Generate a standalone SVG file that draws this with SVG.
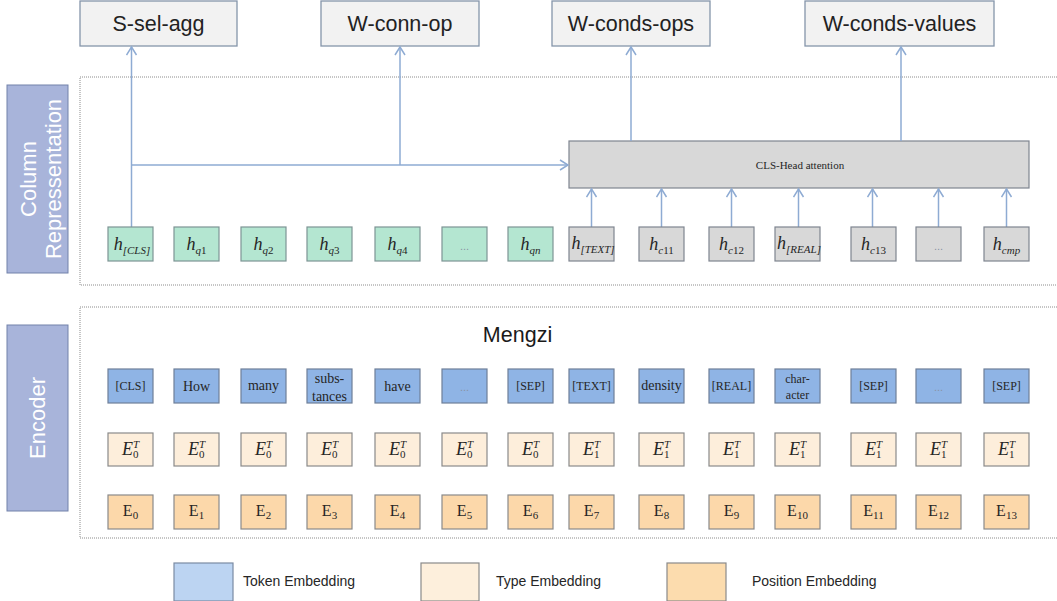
<svg xmlns="http://www.w3.org/2000/svg" width="1057" height="601" viewBox="0 0 1057 601">
<defs>
<style>
.frame{fill:none;stroke:#8c8c8c;stroke-width:1;stroke-dasharray:1 1}
.out{fill:#f2f2f2;stroke:#8595aa;stroke-width:1.3}
.lbl{fill:#a8b4da;stroke:#7282aa;stroke-width:1}
.hg{fill:#b4e6d1;stroke:#7d9494;stroke-width:1.2}
.hgr{fill:#d8d8d8;stroke:#7f8590;stroke-width:1.2}
.tok{fill:#8fb4e5;stroke:#6e7f98;stroke-width:1.2}
.typ{fill:#fdeedb;stroke:#8a8a8a;stroke-width:1.2}
.pos{fill:#fcd8aa;stroke:#8a8a8a;stroke-width:1.2}
.conn{stroke:#8eabd3;stroke-width:1.5;fill:none;marker-end:url(#arr)}
.otxt{font-family:"Liberation Sans",Arial,sans-serif;font-size:21.5px;fill:#222;text-anchor:middle}
.vtxt{font-family:"Liberation Sans",Arial,sans-serif;font-size:22px;fill:#ffffff;text-anchor:middle}
.math{font-family:"Liberation Serif","Times New Roman",serif;font-style:italic;font-size:18px;fill:#262626;text-anchor:middle}
.sub{font-size:11px}
.up{font-style:normal}
.rom{font-family:"Liberation Serif","Times New Roman",serif;font-size:16px;fill:#262626;text-anchor:middle}
.s11{font-size:11px}
.tt{font-family:"Liberation Serif","Times New Roman",serif;font-size:14px;fill:#262626;text-anchor:middle}
.tb{font-family:"Liberation Serif","Times New Roman",serif;font-size:12px;fill:#262626;text-anchor:middle}
.dots{font-family:"Liberation Sans",Arial,sans-serif;font-size:11px;fill:#8a93a3;text-anchor:middle}
.leg{font-family:"Liberation Sans",Arial,sans-serif;font-size:14px;fill:#262626}
</style>
<marker id="arr" markerUnits="userSpaceOnUse" markerWidth="14" markerHeight="14" refX="10" refY="6" orient="auto">
<path d="M2,1 L10,6 L2,11" fill="none" stroke="#8eabd3" stroke-width="1.5"/>
</marker>
</defs>
<rect width="1057" height="601" fill="#ffffff"/>

<g id="frames">
<rect class="frame" x="80" y="77" width="990" height="208"/>
<rect class="frame" x="80" y="307" width="990" height="231"/>
</g>

<g id="label-column">
<rect class="lbl" x="7" y="85" width="61" height="188"/>
<text class="vtxt" transform="translate(37,179) rotate(-90)"><tspan x="0" y="-1">Column</tspan><tspan x="0" y="24">Repressentation</tspan></text>
</g>
<g id="label-encoder">
<rect class="lbl" x="7" y="325" width="61" height="186"/>
<text class="vtxt" font-size="21" transform="translate(37,418) rotate(-90)" y="7.5">Encoder</text>
</g>

<g id="out-s-sel-agg"><rect class="out" x="80" y="1" width="157" height="45"/><text class="otxt" x="158.5" y="31">S-sel-agg</text></g>
<g id="out-w-conn-op"><rect class="out" x="321" y="1" width="158" height="45"/><text class="otxt" x="400" y="31">W-conn-op</text></g>
<g id="out-w-conds-ops"><rect class="out" x="552" y="1" width="158" height="45"/><text class="otxt" x="631" y="31">W-conds-ops</text></g>
<g id="out-w-conds-values"><rect class="out" x="805" y="1" width="189" height="45"/><text class="otxt" x="899.5" y="31">W-conds-values</text></g>

<g id="cls-head-attention">
<rect class="hgr" x="569" y="141" width="460" height="47"/>
<text x="800" y="169" font-family="'Liberation Serif','Times New Roman',serif" font-size="11px" fill="#262626" text-anchor="middle">CLS-Head attention</text>
</g>

<g id="connectors">
<path class="conn" d="M131.5,227 V47"/>
<path class="conn" d="M131.5,165 H568"/>
<path class="conn" d="M400,165 V47"/>
<path class="conn" d="M631,141 V47"/>
<path class="conn" d="M901,141 V47"/>
<path class="conn" d="M591.5,227 V189"/>
<path class="conn" d="M661.5,227 V189"/>
<path class="conn" d="M731.5,227 V189"/>
<path class="conn" d="M798.5,227 V189"/>
<path class="conn" d="M872.5,227 V189"/>
<path class="conn" d="M938.5,227 V189"/>
<path class="conn" d="M1006.5,227 V189"/>
</g>

<g id="h-cls"><rect class="hg" x="108" y="227" width="45" height="34"/><text class="math" x="132" y="250">h<tspan class="sub" dy="4">[CLS]</tspan></text></g>
<g id="h-q1"><rect class="hg" x="174" y="227" width="45" height="34"/><text class="math" x="196.5" y="250">h<tspan class="sub" dy="4">q<tspan class="up">1</tspan></tspan></text></g>
<g id="h-q2"><rect class="hg" x="241" y="227" width="45" height="34"/><text class="math" x="263.5" y="250">h<tspan class="sub" dy="4">q<tspan class="up">2</tspan></tspan></text></g>
<g id="h-q3"><rect class="hg" x="307" y="227" width="45" height="34"/><text class="math" x="329.5" y="250">h<tspan class="sub" dy="4">q<tspan class="up">3</tspan></tspan></text></g>
<g id="h-q4"><rect class="hg" x="375" y="227" width="45" height="34"/><text class="math" x="397.5" y="250">h<tspan class="sub" dy="4">q<tspan class="up">4</tspan></tspan></text></g>
<g id="h-qdots"><rect class="hg" x="442" y="227" width="45" height="34"/><text class="dots" x="464.5" y="250">...</text></g>
<g id="h-qn"><rect class="hg" x="508" y="227" width="45" height="34"/><text class="math" x="530.5" y="250">h<tspan class="sub" dy="4">qn</tspan></text></g>
<g id="h-text"><rect class="hgr" x="569" y="227" width="45" height="34"/><text class="math" x="593" y="249">h<tspan class="sub" dy="4">[TEXT]</tspan></text></g>
<g id="h-c11"><rect class="hgr" x="639" y="227" width="45" height="34"/><text class="math" x="661.5" y="250">h<tspan class="sub" dy="4">c<tspan class="up">11</tspan></tspan></text></g>
<g id="h-c12"><rect class="hgr" x="709" y="227" width="45" height="34"/><text class="math" x="731.5" y="250">h<tspan class="sub" dy="4">c<tspan class="up">12</tspan></tspan></text></g>
<g id="h-real"><rect class="hgr" x="775" y="227" width="45" height="34"/><text class="math" x="799" y="249">h<tspan class="sub" dy="4">[REAL]</tspan></text></g>
<g id="h-c13"><rect class="hgr" x="851" y="227" width="45" height="34"/><text class="math" x="873.5" y="250">h<tspan class="sub" dy="4">c<tspan class="up">13</tspan></tspan></text></g>
<g id="h-cdots"><rect class="hgr" x="916" y="227" width="45" height="34"/><text class="dots" x="938.5" y="250">...</text></g>
<g id="h-cmp"><rect class="hgr" x="984" y="227" width="45" height="34"/><text class="math" x="1006.5" y="250">h<tspan class="sub" dy="4">cmp</tspan></text></g>

<g id="mengzi"><text x="517.5" y="342" font-family="'Liberation Sans',Arial,sans-serif" font-size="21.5px" fill="#1a1a1a" text-anchor="middle">Mengzi</text></g>

<g id="tok-cls"><rect class="tok" x="108" y="369" width="45" height="34"/><text class="tb" x="130.5" y="390">[CLS]</text></g>
<g id="tok-how"><rect class="tok" x="174" y="369" width="45" height="34"/><text class="tt" x="196.5" y="391">How</text></g>
<g id="tok-many"><rect class="tok" x="241" y="369" width="45" height="34"/><text class="tt" x="263.5" y="390">many</text></g>
<g id="tok-substances"><rect class="tok" x="307" y="369" width="45" height="34"/><text class="tt" x="329.5" y="383">subs-</text><text class="tt" x="329.5" y="401">tances</text></g>
<g id="tok-have"><rect class="tok" x="375" y="369" width="45" height="34"/><text class="tt" x="397.5" y="391">have</text></g>
<g id="tok-dots1"><rect class="tok" x="442" y="369" width="45" height="34"/><text class="dots" x="464.5" y="391">...</text></g>
<g id="tok-sep1"><rect class="tok" x="508" y="369" width="45" height="34"/><text class="tb" x="530.5" y="390">[SEP]</text></g>
<g id="tok-text"><rect class="tok" x="569" y="369" width="45" height="34"/><text class="tb" x="591.5" y="390">[TEXT]</text></g>
<g id="tok-density"><rect class="tok" x="639" y="369" width="45" height="34"/><text class="tt" x="661.5" y="390">density</text></g>
<g id="tok-real"><rect class="tok" x="709" y="369" width="45" height="34"/><text class="tb" x="731.5" y="390">[REAL]</text></g>
<g id="tok-character"><rect class="tok" x="775" y="369" width="45" height="34"/><text class="tb" x="797.5" y="383">char-</text><text class="tb" x="797.5" y="399">acter</text></g>
<g id="tok-sep2"><rect class="tok" x="851" y="369" width="45" height="34"/><text class="tb" x="873.5" y="390">[SEP]</text></g>
<g id="tok-dots2"><rect class="tok" x="916" y="369" width="45" height="34"/><text class="dots" x="938.5" y="391">...</text></g>
<g id="tok-sep3"><rect class="tok" x="984" y="369" width="45" height="34"/><text class="tb" x="1006.5" y="390">[SEP]</text></g>

<g id="typ-1"><rect class="typ" x="108" y="433" width="45" height="33"/><text class="math" x="130.5" y="455">E<tspan class="s11" dy="-7">T</tspan><tspan class="s11 up" dx="-6" dy="10">0</tspan></text></g>
<g id="typ-2"><rect class="typ" x="174" y="433" width="45" height="33"/><text class="math" x="196.5" y="455">E<tspan class="s11" dy="-7">T</tspan><tspan class="s11 up" dx="-6" dy="10">0</tspan></text></g>
<g id="typ-3"><rect class="typ" x="241" y="433" width="45" height="33"/><text class="math" x="263.5" y="455">E<tspan class="s11" dy="-7">T</tspan><tspan class="s11 up" dx="-6" dy="10">0</tspan></text></g>
<g id="typ-4"><rect class="typ" x="307" y="433" width="45" height="33"/><text class="math" x="329.5" y="455">E<tspan class="s11" dy="-7">T</tspan><tspan class="s11 up" dx="-6" dy="10">0</tspan></text></g>
<g id="typ-5"><rect class="typ" x="375" y="433" width="45" height="33"/><text class="math" x="397.5" y="455">E<tspan class="s11" dy="-7">T</tspan><tspan class="s11 up" dx="-6" dy="10">0</tspan></text></g>
<g id="typ-6"><rect class="typ" x="442" y="433" width="45" height="33"/><text class="math" x="464.5" y="455">E<tspan class="s11" dy="-7">T</tspan><tspan class="s11 up" dx="-6" dy="10">0</tspan></text></g>
<g id="typ-7"><rect class="typ" x="508" y="433" width="45" height="33"/><text class="math" x="530.5" y="455">E<tspan class="s11" dy="-7">T</tspan><tspan class="s11 up" dx="-6" dy="10">0</tspan></text></g>
<g id="typ-8"><rect class="typ" x="569" y="433" width="45" height="33"/><text class="math" x="591.5" y="455">E<tspan class="s11" dy="-7">T</tspan><tspan class="s11 up" dx="-6" dy="10">1</tspan></text></g>
<g id="typ-9"><rect class="typ" x="639" y="433" width="45" height="33"/><text class="math" x="661.5" y="455">E<tspan class="s11" dy="-7">T</tspan><tspan class="s11 up" dx="-6" dy="10">1</tspan></text></g>
<g id="typ-10"><rect class="typ" x="709" y="433" width="45" height="33"/><text class="math" x="731.5" y="455">E<tspan class="s11" dy="-7">T</tspan><tspan class="s11 up" dx="-6" dy="10">1</tspan></text></g>
<g id="typ-11"><rect class="typ" x="775" y="433" width="45" height="33"/><text class="math" x="797.5" y="455">E<tspan class="s11" dy="-7">T</tspan><tspan class="s11 up" dx="-6" dy="10">1</tspan></text></g>
<g id="typ-12"><rect class="typ" x="851" y="433" width="45" height="33"/><text class="math" x="873.5" y="455">E<tspan class="s11" dy="-7">T</tspan><tspan class="s11 up" dx="-6" dy="10">1</tspan></text></g>
<g id="typ-13"><rect class="typ" x="916" y="433" width="45" height="33"/><text class="math" x="938.5" y="455">E<tspan class="s11" dy="-7">T</tspan><tspan class="s11 up" dx="-6" dy="10">1</tspan></text></g>
<g id="typ-14"><rect class="typ" x="984" y="433" width="45" height="33"/><text class="math" x="1006.5" y="455">E<tspan class="s11" dy="-7">T</tspan><tspan class="s11 up" dx="-6" dy="10">1</tspan></text></g>

<g id="pos-0"><rect class="pos" x="108" y="495" width="45" height="34"/><text class="rom" x="130.5" y="516">E<tspan class="s11" dy="3">0</tspan></text></g>
<g id="pos-1"><rect class="pos" x="174" y="495" width="45" height="34"/><text class="rom" x="196.5" y="516">E<tspan class="s11" dy="3">1</tspan></text></g>
<g id="pos-2"><rect class="pos" x="241" y="495" width="45" height="34"/><text class="rom" x="263.5" y="516">E<tspan class="s11" dy="3">2</tspan></text></g>
<g id="pos-3"><rect class="pos" x="307" y="495" width="45" height="34"/><text class="rom" x="329.5" y="516">E<tspan class="s11" dy="3">3</tspan></text></g>
<g id="pos-4"><rect class="pos" x="375" y="495" width="45" height="34"/><text class="rom" x="397.5" y="516">E<tspan class="s11" dy="3">4</tspan></text></g>
<g id="pos-5"><rect class="pos" x="442" y="495" width="45" height="34"/><text class="rom" x="464.5" y="516">E<tspan class="s11" dy="3">5</tspan></text></g>
<g id="pos-6"><rect class="pos" x="508" y="495" width="45" height="34"/><text class="rom" x="530.5" y="516">E<tspan class="s11" dy="3">6</tspan></text></g>
<g id="pos-7"><rect class="pos" x="569" y="495" width="45" height="34"/><text class="rom" x="591.5" y="516">E<tspan class="s11" dy="3">7</tspan></text></g>
<g id="pos-8"><rect class="pos" x="639" y="495" width="45" height="34"/><text class="rom" x="661.5" y="516">E<tspan class="s11" dy="3">8</tspan></text></g>
<g id="pos-9"><rect class="pos" x="709" y="495" width="45" height="34"/><text class="rom" x="731.5" y="516">E<tspan class="s11" dy="3">9</tspan></text></g>
<g id="pos-10"><rect class="pos" x="775" y="495" width="45" height="34"/><text class="rom" x="797.5" y="516">E<tspan class="s11" dy="3">10</tspan></text></g>
<g id="pos-11"><rect class="pos" x="851" y="495" width="45" height="34"/><text class="rom" x="873.5" y="516">E<tspan class="s11" dy="3">11</tspan></text></g>
<g id="pos-12"><rect class="pos" x="916" y="495" width="45" height="34"/><text class="rom" x="938.5" y="516">E<tspan class="s11" dy="3">12</tspan></text></g>
<g id="pos-13"><rect class="pos" x="984" y="495" width="45" height="34"/><text class="rom" x="1006.5" y="516">E<tspan class="s11" dy="3">13</tspan></text></g>

<g id="legend-token"><rect x="174" y="563" width="59" height="38" fill="#bcd4f2" stroke="#7b8ba3" stroke-width="1.2"/><text class="leg" x="243" y="586">Token Embedding</text></g>
<g id="legend-type"><rect x="421" y="563" width="58" height="38" fill="#fdefdc" stroke="#8a8a8a" stroke-width="1.2"/><text class="leg" x="496" y="586">Type Embedding</text></g>
<g id="legend-position"><rect x="667" y="563" width="59" height="38" fill="#fcdcae" stroke="#8a8a8a" stroke-width="1.2"/><text class="leg" x="752" y="586">Position Embedding</text></g>
</svg>
